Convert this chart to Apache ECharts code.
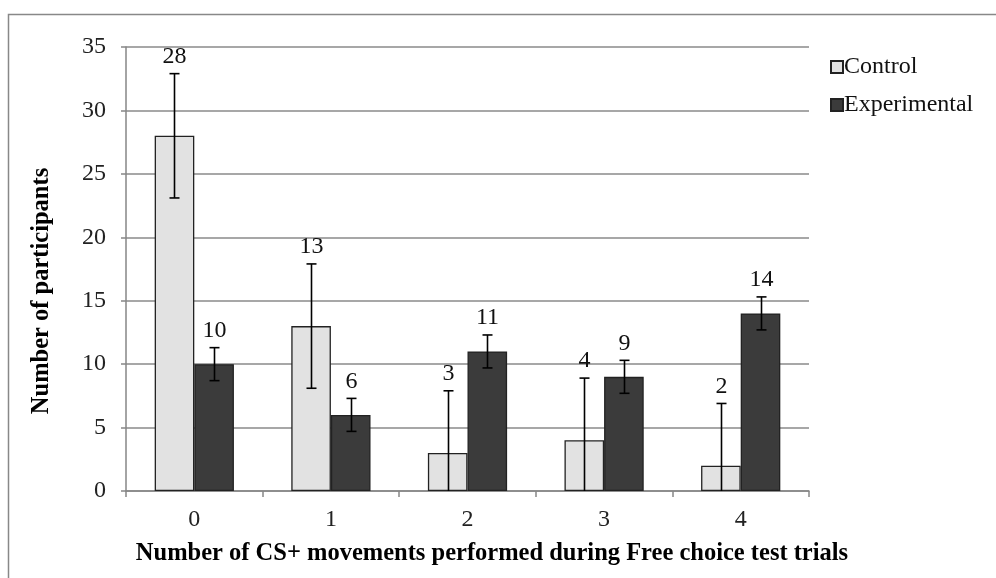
<!DOCTYPE html>
<html>
<head>
<meta charset="utf-8">
<script src="https://cdn.jsdelivr.net/npm/echarts@6/dist/echarts.min.js"></script>
<style>
html,body{margin:0;padding:0;background:#fff;}
#chart{width:996px;height:578px;}
</style>
</head>
<body>
<div id="chart"></div>
<script>
const categories = ['0', '1', '2', '3', '4'];
const controlValues = [28, 13, 3, 4, 2];
const controlErrors = [4.9, 4.9, 4.9, 4.9, 4.9];
const experimentalValues = [10, 6, 11, 9, 14];
const experimentalErrors = [1.3, 1.3, 1.3, 1.3, 1.3];
const yTicks = [0, 5, 10, 15, 20, 25, 30, 35];

const FONT = "'Liberation Serif', 'Times New Roman', serif";
const GAP = 0.42;

function errData(vals, errs) {
  return vals.map((v, i) => [i, v, errs[i]]);
}

function makeRender(sign) {
  return function (params, api) {
    const i = api.value(0), v = api.value(1), e = api.value(2);
    const band = api.size([1, 0])[0];
    const bw = band * (1 - GAP) / 2;
    const c = api.coord([i, v]);
    const x = Math.round(c[0] + sign * bw / 2) + 0.5;
    const top = api.coord([i, v + e])[1];
    const bot = api.coord([i, Math.max(0, v - e)])[1];
    const cap = 5;
    const ls = { stroke: '#000', lineWidth: 1.6 };
    const children = [
      { type: 'line', shape: { x1: x, y1: top, x2: x, y2: bot }, style: ls },
      { type: 'line', shape: { x1: x - cap, y1: top, x2: x + cap, y2: top }, style: ls }
    ];
    if (v - e > 0) {
      children.push({ type: 'line', shape: { x1: x - cap, y1: bot, x2: x + cap, y2: bot }, style: ls });
    }
    children.push({
      type: 'text',
      style: { text: String(v), x: x, y: top - 5, align: 'center', verticalAlign: 'bottom',
        fontSize: 24, fontFamily: FONT, fill: '#111' }
    });
    return { type: 'group', children: children };
  };
}

const chart = echarts.init(document.getElementById('chart'));
chart.setOption({
  backgroundColor: '#fff',
  animation: false,
  grid: { left: 126, right: 187, top: 47, bottom: 87 },
  legend: {
    data: ['Control', 'Experimental'],
    orient: 'vertical',
    left: 825, top: 50,
    icon: 'rect', itemWidth: 12, itemHeight: 12, itemGap: 14,
    textStyle: { fontFamily: FONT, fontSize: 24, color: '#111', padding: [0, 0, 0, -4] }
  },
  xAxis: {
    type: 'category',
    data: categories,
    axisLine: { lineStyle: { color: '#868686', width: 1.5 } },
    axisTick: { show: true, length: 6, lineStyle: { color: '#868686', width: 1.5 } },
    axisLabel: { fontFamily: FONT, fontSize: 24, color: '#222', margin: 17 }
  },
  yAxis: {
    type: 'value',
    min: 0, max: 35, interval: 5,
    axisLine: { show: true, lineStyle: { color: '#868686', width: 1.5 } },
    axisTick: { show: true, length: 5, lineStyle: { color: '#868686', width: 1.5 } },
    splitLine: { lineStyle: { color: '#8a8a8a', width: 1.5 } },
    axisLabel: { fontFamily: FONT, fontSize: 24, color: '#222', margin: 20,
      formatter: v => yTicks.includes(v) ? String(v) : '' }
  },
  graphic: [
    { type: 'rect', shape: { x: 8.5, y: 14.5, width: 1100, height: 700 },
      style: { fill: 'none', stroke: '#888', lineWidth: 1.5 }, silent: true },
    { type: 'text', x: 42, y: 291, rotation: Math.PI / 2,
      style: { text: 'Number of participants', align: 'center', verticalAlign: 'middle',
        fontFamily: FONT, fontSize: 24.5, fontWeight: 'bold', fill: '#000' } },
    { type: 'text', x: 492, y: 554,
      style: { text: 'Number of CS+ movements performed during Free choice test trials', align: 'center', verticalAlign: 'middle',
        fontFamily: FONT, fontSize: 24.5, fontWeight: 'bold', fill: '#000' } }
  ],
  series: [
    { name: 'Control', type: 'bar', data: controlValues, barGap: '0%', barCategoryGap: '42%',
      itemStyle: { color: '#e2e2e2', borderColor: '#222', borderWidth: 1.3 } },
    { name: 'Experimental', type: 'bar', data: experimentalValues, barGap: '0%', barCategoryGap: '42%',
      itemStyle: { color: '#3b3b3b', borderColor: '#222', borderWidth: 1.3 } },
    { name: 'ctrlErr', type: 'custom', data: errData(controlValues, controlErrors),
      encode: { x: 0, y: 1 }, renderItem: makeRender(-1), z: 10 },
    { name: 'expErr', type: 'custom', data: errData(experimentalValues, experimentalErrors),
      encode: { x: 0, y: 1 }, renderItem: makeRender(1), z: 10 }
  ]
});
</script>
</body>
</html>
